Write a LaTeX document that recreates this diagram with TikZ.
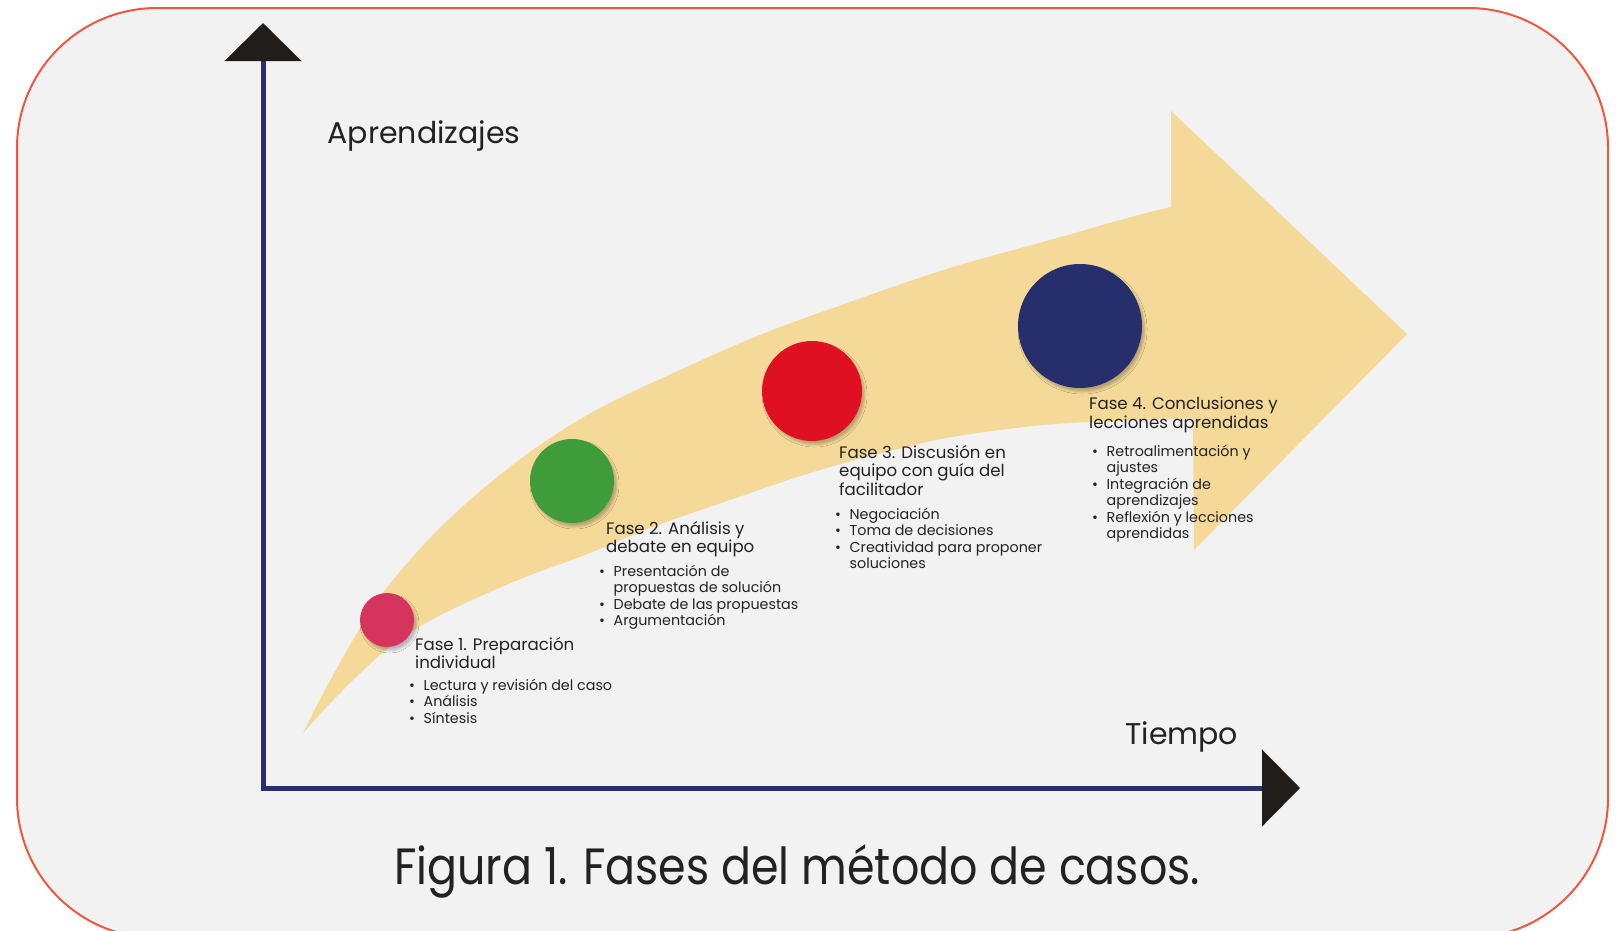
\documentclass[tikz,border=0pt]{standalone}
\usepackage{fontspec}
\setmainfont{Poppins}
\newfontfamily\titlefont{Poppins}[FakeStretch=0.87]
\usetikzlibrary{arrows.meta,positioning,shadows.blur}

\definecolor{framered}{HTML}{EE5840}
\definecolor{panelgray}{HTML}{F2F2F2}
\definecolor{bandsand}{HTML}{F4D998}
\definecolor{axisnavy}{HTML}{2A2E6E}
\definecolor{tipblack}{HTML}{201D1A}
\definecolor{dotpink}{HTML}{D6335F}
\definecolor{dotgreen}{HTML}{3F9C3A}
\definecolor{dotred}{HTML}{DF1022}
\definecolor{dotnavy}{HTML}{262E6B}
\definecolor{ink}{HTML}{222222}

\newcommand{\bul}{\makebox[14.5pt][l]{\textbullet}}
\newcommand{\cont}{\hspace*{14.5pt}}

\begin{document}
\begin{tikzpicture}[x=1pt,y=-1pt,
	dot/.style={circle,inner sep=0pt,
		blur shadow={shadow xshift=2.5pt,shadow yshift=-3.5pt,shadow blur radius=2.5pt,shadow opacity=25}},
	head/.style={anchor=north west,inner sep=0pt,align=left,text=ink,font=\fontsize{16.6}{18.5}\selectfont},
	items/.style={anchor=north west,inner sep=0pt,align=left,text=ink,font=\fontsize{14.3}{16.5}\selectfont}]
		\fill[white] (0,0) rectangle (1619,930);
		\useasboundingbox (0,0) rectangle (1619,930);
		\draw[framered,line width=2pt,fill=panelgray,rounded corners=140pt] (17,8) rectangle (1608,938);

		% band
		\fill[bandsand] plot[smooth,tension=0.6] coordinates {(303,733) (325,690) (353,640) (380,597) (410,560) (445,523) (490,483) (540,445) (600,408) (680,370) (760,335) (850,302) (950,268) (1050,240) (1131,217) (1171,207)}
			-- (1171,111) -- (1407,334) -- (1194,550) -- (1193,418)
			-- plot[smooth,tension=0.6] coordinates {(1193,418) (1172,419) (1070,423) (1000,430) (927,442) (820,470) (730,500) (650,528) (590,553) (523,578) (457,607) (414,630) (380,655) (340,693) (303,733)} -- cycle;

		% axes
		\coordinate (O) at (263,788);
		\coordinate (Y) at (263,23);
		\coordinate (X) at (1300,788);
		\draw[axisnavy,line width=5pt,
			{Triangle[length=38pt,width=76pt,color=tipblack]}-{Triangle[length=38pt,width=76pt,color=tipblack]}] (Y) -- (O) -- (X);
		\node[anchor=base west,text=ink,font=\fontsize{30}{36}\selectfont] (ylabel) at (324,143) {Aprendizajes};
		\node[anchor=base west,text=ink,font=\fontsize{30}{36}\selectfont] (xlabel) at (1122,744) {Tiempo};

		% phases
		\node[dot,fill=dotpink,minimum size=54pt] (p1) at (387,620) {};
		\node[dot,fill=dotgreen,minimum size=84pt] (p2) at (572,481) {};
		\node[dot,fill=dotred,minimum size=100pt] (p3) at (812,391) {};
		\node[dot,fill=dotnavy,minimum size=124pt] (p4) at (1080,326) {};

		\node[head] (h1) at (415,637) {Fase 1. Preparación\\individual};
		\node[items] (l1) at (409,679) {\bul Lectura y revisión del caso\\\bul Análisis\\\bul Síntesis};

		\node[head] (h2) at (606,521) {Fase 2. Análisis y\\debate en equipo};
		\node[items] (l2) at (599,565) {\bul Presentación de\\\cont propuestas de solución\\\bul Debate de las propuestas\\\bul Argumentación};

		\node[head] (h3) at (839,445) {Fase 3. Discusión en\\equipo con guía del\\facilitador};
		\node[items] (l3) at (835,508) {\bul Negociación\\\bul Toma de decisiones\\\bul Creatividad para proponer\\\cont soluciones};

		\node[head] (h4) at (1089,397) {Fase 4. Conclusiones y\\lecciones aprendidas};
		\node[items] (l4) at (1092,445) {\bul Retroalimentación y\\\cont ajustes\\\bul Integración de\\\cont aprendizajes\\\bul Reflexión y lecciones\\\cont aprendidas};

		\node[anchor=base,text=ink,font=\titlefont\fontsize{51}{60}\selectfont] (title) at (797,884) {Figura 1. Fases del método de casos.};
	\end{tikzpicture}
\end{document}
